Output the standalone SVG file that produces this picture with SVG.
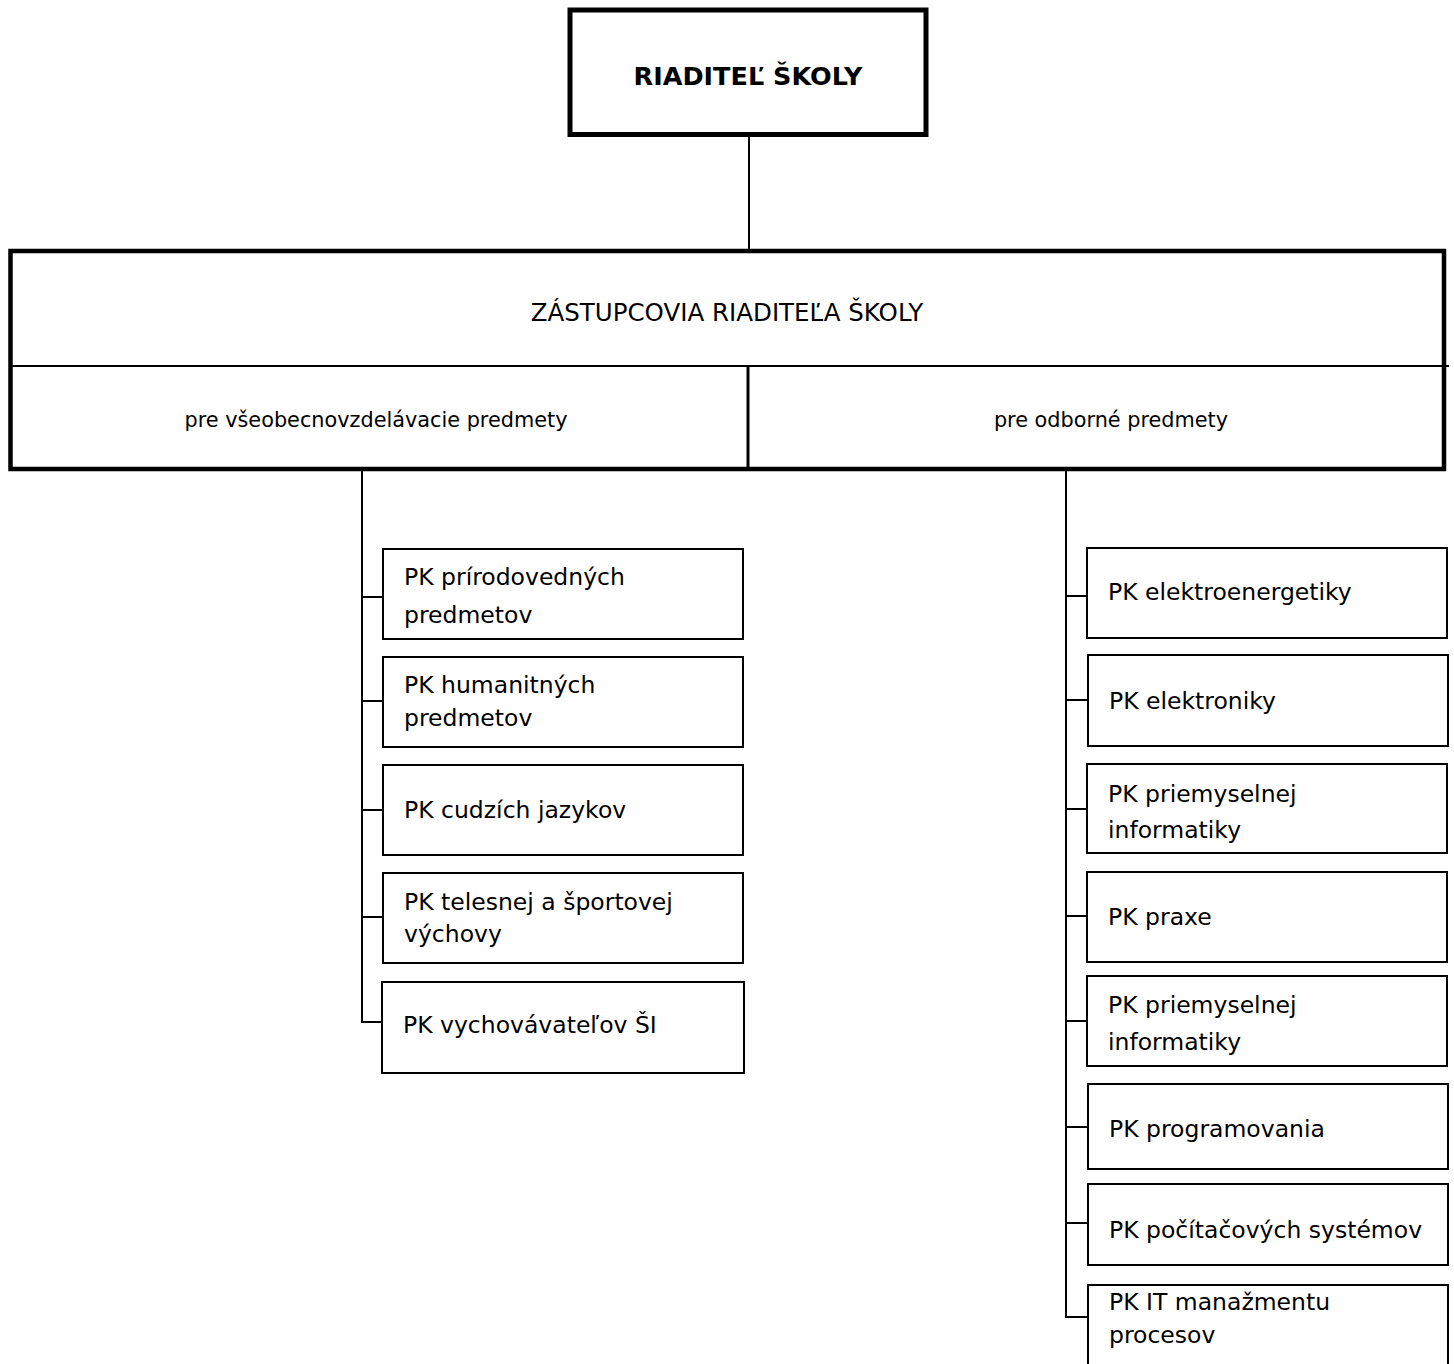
<svg xmlns="http://www.w3.org/2000/svg" width="1454" height="1364" viewBox="0 0 1454 1364">
<style>
  text { font-family: "DejaVu Sans", Verdana, sans-serif; fill: #000; }
  .lbl { font-size: 23.5px; }
  .mid { font-size: 24.5px; text-anchor: middle; }
  .sub { font-size: 20.8px; text-anchor: middle; }
  .title { font-size: 25.5px; font-weight: bold; text-anchor: middle; }
  .box { fill: #fff; stroke: #000; stroke-width: 2; }
  .conn { fill: none; stroke: #000; stroke-width: 2; }
</style>
<rect width="1454" height="1364" fill="#fff"/>
<g id="connectors">
  <line class="conn" x1="749" y1="136" x2="749" y2="250"/>
  <path class="conn" d="M362,470 V1022 H383 M362,597 H383 M362,701 H383 M362,810 H383 M362,917 H383"/>
  <path class="conn" d="M1066,470 V1317 H1088 M1066,596 H1088 M1066,700 H1088 M1066,809 H1088 M1066,916 H1088 M1066,1021 H1088 M1066,1127 H1088 M1066,1223 H1088"/>
</g>
<g id="director">
  <rect x="570" y="10" width="356" height="124.5" fill="#fff" stroke="#000" stroke-width="5"/>
  <text class="title" x="748" y="85">RIADITEĽ ŠKOLY</text>
</g>
<g id="deputies">
  <rect x="10.5" y="251" width="1433.5" height="218" fill="#fff" stroke="#000" stroke-width="4.5"/>
  <line x1="10" y1="366" x2="1449" y2="366" stroke="#000" stroke-width="2"/>
  <line x1="748" y1="366" x2="748" y2="469" stroke="#000" stroke-width="3"/>
  <text class="mid" x="727" y="321">ZÁSTUPCOVIA RIADITEĽA ŠKOLY</text>
  <text class="sub" x="376" y="427">pre všeobecnovzdelávacie predmety</text>
  <text class="sub" x="1111" y="427">pre odborné predmety</text>
</g>
<g id="pk-prirodovedne">
  <rect class="box" x="383" y="549" width="360" height="90"/>
  <text class="lbl" x="404" y="585">PK prírodovedných</text>
  <text class="lbl" x="404" y="623">predmetov</text>
</g>
<g id="pk-humanitne">
  <rect class="box" x="383" y="657" width="360" height="90"/>
  <text class="lbl" x="404" y="693">PK humanitných</text>
  <text class="lbl" x="404" y="726">predmetov</text>
</g>
<g id="pk-cudzie-jazyky">
  <rect class="box" x="383" y="765" width="360" height="90"/>
  <text class="lbl" x="404" y="818">PK cudzích jazykov</text>
</g>
<g id="pk-telesna">
  <rect class="box" x="383" y="873" width="360" height="90"/>
  <text class="lbl" x="404" y="910">PK telesnej a športovej</text>
  <text class="lbl" x="404" y="942">výchovy</text>
</g>
<g id="pk-vychovavatelia">
  <rect class="box" x="382" y="982" width="362" height="91"/>
  <text class="lbl" x="403" y="1033">PK vychovávateľov ŠI</text>
</g>
<g id="pk-elektroenergetika">
  <rect class="box" x="1087" y="548" width="360" height="90"/>
  <text class="lbl" x="1108" y="600">PK elektroenergetiky</text>
</g>
<g id="pk-elektronika">
  <rect class="box" x="1088" y="655" width="360" height="91"/>
  <text class="lbl" x="1109" y="709">PK elektroniky</text>
</g>
<g id="pk-priemyselna-informatika-1">
  <rect class="box" x="1087" y="764" width="360" height="89"/>
  <text class="lbl" x="1108" y="802">PK priemyselnej</text>
  <text class="lbl" x="1108" y="838">informatiky</text>
</g>
<g id="pk-prax">
  <rect class="box" x="1087" y="872" width="360" height="90"/>
  <text class="lbl" x="1108" y="925">PK praxe</text>
</g>
<g id="pk-priemyselna-informatika-2">
  <rect class="box" x="1087" y="976" width="360" height="90"/>
  <text class="lbl" x="1108" y="1013">PK priemyselnej</text>
  <text class="lbl" x="1108" y="1050">informatiky</text>
</g>
<g id="pk-programovanie">
  <rect class="box" x="1088" y="1084" width="360" height="85"/>
  <text class="lbl" x="1109" y="1137">PK programovania</text>
</g>
<g id="pk-pocitacove-systemy">
  <rect class="box" x="1088" y="1184" width="360" height="81"/>
  <text class="lbl" x="1109" y="1238">PK počítačových systémov</text>
</g>
<g id="pk-it-manazment">
  <rect class="box" x="1088" y="1285" width="360" height="90"/>
  <text class="lbl" x="1109" y="1310">PK IT manažmentu</text>
  <text class="lbl" x="1109" y="1343">procesov</text>
</g>
</svg>
